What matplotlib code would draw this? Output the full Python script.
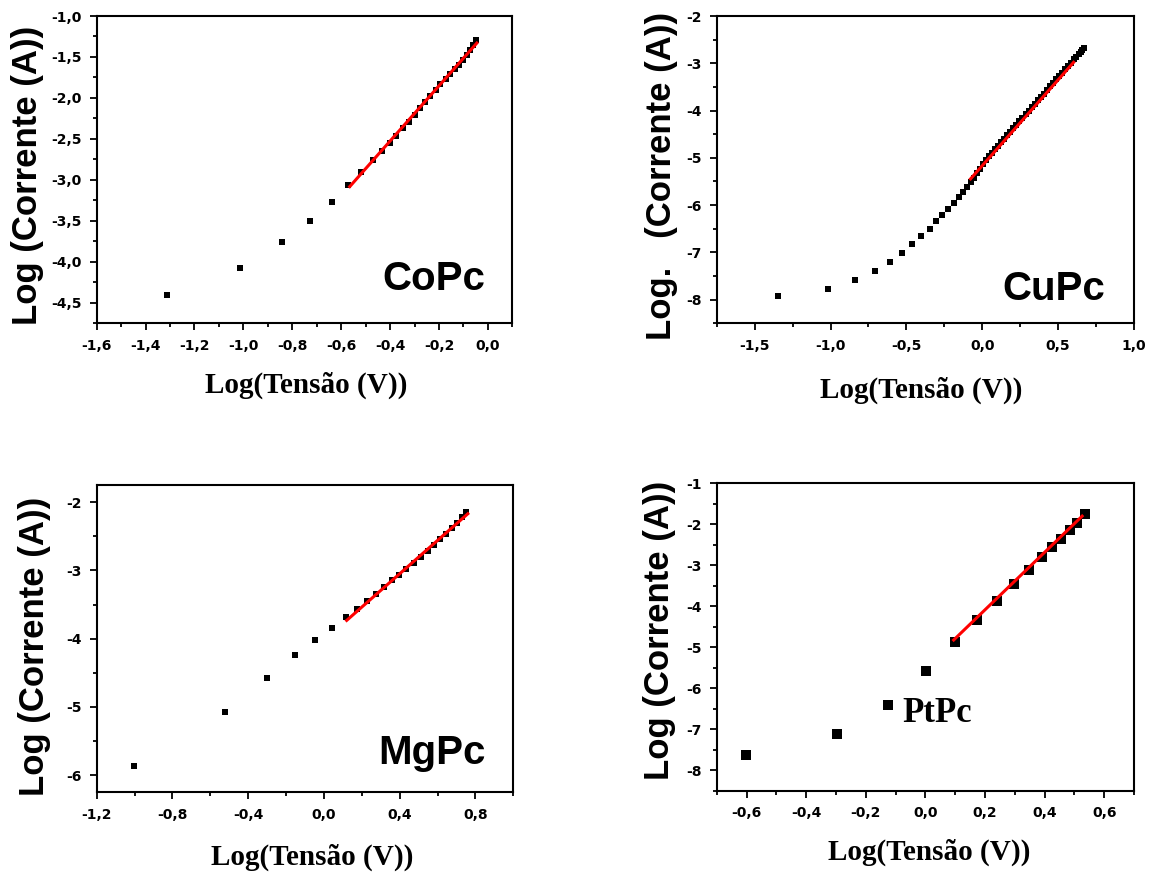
import matplotlib
matplotlib.use("Agg")
import matplotlib.pyplot as plt
from matplotlib.ticker import MultipleLocator, FuncFormatter

# ---- data ----
# CoPc
copc_x = [-1.314, -1.015, -0.844, -0.726, -0.639, -0.572,
          -0.517, -0.470, -0.432, -0.402, -0.374, -0.348, -0.323, -0.300,
          -0.277, -0.256, -0.236, -0.214, -0.194, -0.173, -0.154, -0.136,
          -0.119, -0.102, -0.086, -0.072, -0.059, -0.048]
copc_y = [-4.40, -4.07, -3.76, -3.50, -3.27, -3.066,
          -2.905, -2.759, -2.649, -2.547, -2.459, -2.370, -2.288, -2.203,
          -2.127, -2.054, -1.981, -1.908, -1.835, -1.769, -1.705, -1.648,
          -1.592, -1.535, -1.470, -1.413, -1.352, -1.292]
copc_fit_x = [-0.565, -0.045]
copc_fit_y = [-3.082, -1.33]

# CuPc
cupc_x = [-1.348, -1.018, -0.836, -0.704, -0.609, -0.528, -0.462, -0.403,
          -0.346, -0.304, -0.264, -0.225, -0.187, -0.154, -0.126, -0.099,
          -0.077, -0.055, -0.035, -0.015, 0.005, 0.025, 0.045, 0.065, 0.085,
          0.105, 0.125, 0.145, 0.165, 0.185, 0.205, 0.225, 0.245, 0.265,
          0.285, 0.305, 0.325, 0.345, 0.365, 0.385, 0.405, 0.425, 0.445,
          0.465, 0.485, 0.505, 0.525, 0.545, 0.565, 0.585, 0.605, 0.620,
          0.635, 0.648, 0.660, 0.670]
cupc_y = [-7.93, -7.776, -7.594, -7.391, -7.195, -7.006, -6.824, -6.663,
          -6.495, -6.334, -6.201, -6.075, -5.949, -5.837, -5.725, -5.620,
          -5.515, -5.42, -5.33, -5.24, -5.14, -5.05, -4.97, -4.89, -4.82,
          -4.74, -4.67, -4.60, -4.52, -4.45, -4.37, -4.30, -4.23, -4.15,
          -4.08, -4.00, -3.93, -3.86, -3.78, -3.71, -3.64, -3.56, -3.49,
          -3.42, -3.34, -3.27, -3.20, -3.13, -3.06, -2.99, -2.92, -2.87,
          -2.81, -2.76, -2.72, -2.68]
cupc_fit_x = [-0.077, 0.602]
cupc_fit_y = [-5.445, -2.98]

# MgPc
mgpc_x = [-1.002, -0.522, -0.300, -0.155, -0.049, 0.045, 0.115, 0.177,
          0.230, 0.274, 0.318, 0.359, 0.398, 0.435, 0.474, 0.512, 0.548,
          0.583, 0.615, 0.645, 0.675, 0.703, 0.728, 0.751]
mgpc_y = [-5.868, -5.073, -4.571, -4.244, -4.024, -3.844, -3.689, -3.562,
          -3.455, -3.342, -3.245, -3.147, -3.064, -2.976, -2.893, -2.805,
          -2.723, -2.635, -2.547, -2.464, -2.381, -2.303, -2.220, -2.146]
mgpc_fit_x = [0.120, 0.760]
mgpc_fit_y = [-3.733, -2.171]

# PtPc
ptpc_x = [-0.601, -0.297, -0.125, 0.002, 0.098, 0.174, 0.241, 0.297,
          0.347, 0.391, 0.425, 0.456, 0.484, 0.509, 0.537]
ptpc_y = [-7.62, -7.11, -6.40, -5.57, -4.88, -4.33, -3.87, -3.45,
          -3.11, -2.80, -2.56, -2.35, -2.15, -1.97, -1.74]
ptpc_fit_x = [0.095, 0.526]
ptpc_fit_y = [-4.82, -1.80]

W, H = 1154, 875
fig = plt.figure(figsize=(W / 100, H / 100), dpi=100)

sans = "Liberation Sans"
serif = "Liberation Serif"
tickfont = "DejaVu Sans"


def px_axes(left, top, right, bottom):
    return fig.add_axes([left / W, 1 - bottom / H, (right - left) / W, (bottom - top) / H])


def comma(decimals):
    def f(v, pos):
        s = f"{v:.{decimals}f}"
        if s.startswith("-") and float(s) == 0:
            s = s[1:]
        return s.replace(".", ",")
    return FuncFormatter(f)


def style(ax, xlim, ylim, xmaj, xmin, ymaj, ymin, xdec, ydec):
    ax.set_xlim(*xlim)
    ax.set_ylim(*ylim)
    ax.xaxis.set_major_locator(MultipleLocator(xmaj))
    ax.xaxis.set_minor_locator(MultipleLocator(xmin))
    ax.yaxis.set_major_locator(MultipleLocator(ymaj))
    ax.yaxis.set_minor_locator(MultipleLocator(ymin))
    ax.xaxis.set_major_formatter(comma(xdec))
    ax.yaxis.set_major_formatter(comma(ydec))
    ax.tick_params(which="both", direction="out", top=False, right=False, width=1.3)
    ax.tick_params(which="major", length=5, labelsize=10, pad=6)
    ax.tick_params(which="minor", length=3)
    for lab in ax.get_xticklabels() + ax.get_yticklabels():
        lab.set_fontfamily(tickfont)
        lab.set_fontweight("bold")
    for sp in ax.spines.values():
        sp.set_linewidth(1.5)


def draw(ax, x, y, fx, fy, ms):
    ax.plot(x, y, "s", color="black", markersize=ms, markeredgewidth=0)
    ax.plot(fx, fy, "-", color="red", linewidth=2.2)


ax1 = px_axes(96.7, 16, 512.3, 323.3)
draw(ax1, copc_x, copc_y, copc_fit_x, copc_fit_y, 4.3)
style(ax1, (-1.6, 0.1), (-4.75, -1.0), 0.2, 0.1, 0.5, 0.25, 1, 1)
ax1.text(0.935, 0.108, "CoPc", transform=ax1.transAxes, ha="right", va="baseline",
         fontsize=29, fontweight="bold", family=sans)

ax2 = px_axes(716.7, 16, 1134, 323.3)
draw(ax2, cupc_x, cupc_y, cupc_fit_x, cupc_fit_y, 4.3)
style(ax2, (-1.75, 1.0), (-8.5, -2.0), 0.5, 0.25, 1, 0.5, 1, 0)
ax2.text(0.930, 0.076, "CuPc", transform=ax2.transAxes, ha="right", va="baseline",
         fontsize=29, fontweight="bold", family=sans)

ax3 = px_axes(96.7, 485, 513.3, 792.3)
draw(ax3, mgpc_x, mgpc_y, mgpc_fit_x, mgpc_fit_y, 4.3)
style(ax3, (-1.2, 1.0), (-6.25, -1.75), 0.4, 0.2, 1, 0.5, 1, 0)
ax3.text(0.933, 0.092, "MgPc", transform=ax3.transAxes, ha="right", va="baseline",
         fontsize=29, fontweight="bold", family=sans)

ax4 = px_axes(716.7, 483.3, 1134, 791)
draw(ax4, ptpc_x, ptpc_y, ptpc_fit_x, ptpc_fit_y, 6.5)
style(ax4, (-0.7, 0.7), (-8.5, -1.0), 0.2, 0.1, 1, 0.5, 1, 0)
ax4.text(0.446, 0.224, "PtPc", transform=ax4.transAxes, ha="left", va="baseline",
         fontsize=25, fontweight="bold", family=serif)

# axis titles
ylabels = [("Log (Corrente (A))", 28, 175),
           ("Log.   (Corrente (A))", 661, 176),
           ("Log (Corrente (A))", 35, 646),
           ("Log (Corrente (A))", 659, 630)]
for txt, x, y in ylabels:
    fig.text(x / W, 1 - y / H, txt, rotation=90, ha="center", va="center",
             fontsize=25, fontweight="bold", family=sans)

xlabels = [(306, 393), (921, 398), (312, 865), (929, 860)]
for x, y in xlabels:
    fig.text(x / W, 1 - y / H, "Log(Tensão (V))", ha="center", va="baseline",
             fontsize=21, fontweight="bold", family=serif)

fig.savefig("out.png", dpi=100)
